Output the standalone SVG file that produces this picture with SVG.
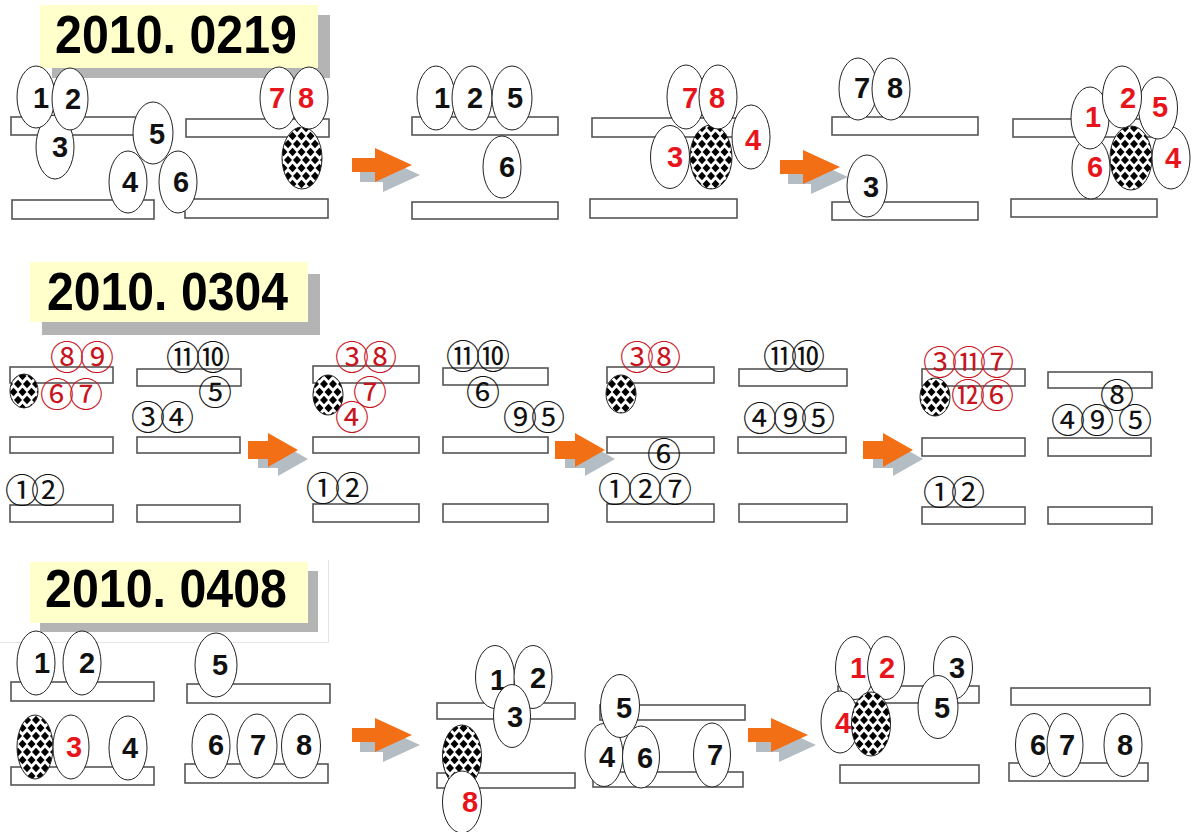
<svg xmlns="http://www.w3.org/2000/svg" xmlns:xlink="http://www.w3.org/1999/xlink" width="1196" height="832" viewBox="0 0 1196 832">
  <style>
    .bar { fill: #fff; stroke: #555; stroke-width: 1.6; }
    .el { fill: #fff; stroke: #222; stroke-width: 1; }
    .chk { fill: url(#checker); stroke: #222; stroke-width: 1; }
    .n { font-family: "Liberation Sans", Arial, sans-serif; font-weight: bold; font-size: 29px; text-anchor: middle; fill: #111; }
    .red { fill: #e8141c; }
    .c { font-family: "Noto Sans CJK JP", "DejaVu Sans", sans-serif; font-size: 34px; text-anchor: middle; dominant-baseline: central; fill: #111; }
    .cr { fill: #c8141e; }
    .ttl { font-family: "Liberation Sans", Arial, sans-serif; font-weight: bold; font-size: 53px; fill: #000; }
    .tbox { fill: #ffffcc; }
    .tshadow { fill: #b4b4b4; }
  </style>
  <defs>
    <!-- staggered black diamonds for the hatched ellipse -->
    <pattern id="checker" width="9" height="16" patternUnits="userSpaceOnUse">
      <rect width="9" height="16" fill="#fff"/>
      <path fill="#000" d="M0,-4.2L4,0L0,4.2L-4,0Z M9,-4.2L13,0L9,4.2L5,0Z M4.5,3.8L8.5,8L4.5,12.2L0.5,8Z M0,11.8L4,16L0,20.2L-4,16Z M9,11.8L13,16L9,20.2L5,16Z"/>
    </pattern>
    <!-- block arrow with its grey drop shadow; tip at the origin -->
    <g id="arrow">
      <path transform="translate(8,10)" fill="#b4bcc4" d="M-60,-7H-37V-17L0,0L-37,17V7H-60Z"/>
      <path fill="#f36f16" d="M-60,-7H-37V-17L0,0L-37,17V7H-60Z"/>
    </g>
    <g id="arrow-s">
      <path transform="translate(10,9)" fill="#b4bcc4" d="M-50,-9H-30V-17L0,0L-30,17V9H-50Z"/>
      <path fill="#f36f16" d="M-50,-9H-30V-17L0,0L-30,17V9H-50Z"/>
    </g>
  </defs>

  <rect width="1196" height="832" fill="#fff"/>

  <!-- ===== titles ===== -->
  <g id="title-0219">
    <rect class="tshadow" x="52" y="15" width="278" height="63"/>
    <rect class="tbox" x="40" y="5" width="278" height="63"/>
    <text class="ttl" x="55" y="53" textLength="242" lengthAdjust="spacingAndGlyphs">2010. 0219</text>
  </g>
  <g id="title-0304">
    <rect class="tshadow" x="42" y="274" width="278" height="61"/>
    <rect class="tbox" x="30" y="262" width="278" height="60"/>
    <text class="ttl" x="47" y="310" textLength="241" lengthAdjust="spacingAndGlyphs">2010. 0304</text>
  </g>
  <g id="title-0408">
    <path d="M0,642.5H328.5V560" fill="none" stroke="#e4e4e4" stroke-width="1"/>
    <rect class="tshadow" x="40" y="571" width="278" height="61"/>
    <rect class="tbox" x="30" y="562" width="278" height="61"/>
    <text class="ttl" x="45" y="607" textLength="242" lengthAdjust="spacingAndGlyphs">2010. 0408</text>
  </g>

  <!-- ===== connectors (step arrows) ===== -->
  <g id="connectors">
    <use xlink:href="#arrow" x="412" y="165"/>
    <use xlink:href="#arrow" x="840" y="167"/>
    <use xlink:href="#arrow-s" x="298" y="450"/>
    <use xlink:href="#arrow-s" x="605" y="450"/>
    <use xlink:href="#arrow-s" x="913" y="450"/>
    <use xlink:href="#arrow" x="412" y="735"/>
    <use xlink:href="#arrow" x="808" y="735"/>
  </g>

  <!-- ===== 2010.0219 : stage 1 ===== -->
  <g id="a1-bars">
    <rect class="bar" x="11" y="117" width="135" height="18"/>
    <rect class="bar" x="12" y="200" width="142" height="19"/>
    <rect class="bar" x="186" y="119" width="143" height="18"/>
    <rect class="bar" x="185" y="199" width="143" height="19"/>
  </g>
  <g id="a1-3"><ellipse class="el" cx="55" cy="147" rx="19" ry="32"/><text class="n" x="60" y="157">3</text></g>
  <g id="a1-1"><ellipse class="el" cx="36" cy="97" rx="19" ry="31"/><text class="n" x="41" y="108">1</text></g>
  <g id="a1-2"><ellipse class="el" cx="70" cy="99" rx="18" ry="31"/><text class="n" x="73" y="109">2</text></g>
  <g id="a1-4"><ellipse class="el" cx="128" cy="182" rx="19" ry="31"/><text class="n" x="130" y="192">4</text></g>
  <g id="a1-6"><ellipse class="el" cx="178" cy="182" rx="19" ry="31"/><text class="n" x="181" y="192">6</text></g>
  <g id="a1-5"><ellipse class="el" cx="153" cy="133" rx="20" ry="31"/><text class="n" x="157" y="144">5</text></g>
  <g id="a1-x"><ellipse class="chk" cx="302" cy="158" rx="20" ry="31"/></g>
  <g id="a1-7"><ellipse class="el" cx="279" cy="98" rx="19" ry="31"/><text class="n red" x="277" y="108">7</text></g>
  <g id="a1-8"><ellipse class="el" cx="309" cy="98" rx="19" ry="31"/><text class="n red" x="306" y="108">8</text></g>

  <!-- stage 2 -->
  <g id="a2-bars">
    <rect class="bar" x="412" y="117" width="146" height="18"/>
    <rect class="bar" x="412" y="202" width="146" height="17"/>
  </g>
  <g id="a2-1"><ellipse class="el" cx="436" cy="98" rx="19" ry="32"/><text class="n" x="442" y="108">1</text></g>
  <g id="a2-2"><ellipse class="el" cx="472" cy="98" rx="20" ry="32"/><text class="n" x="475" y="108">2</text></g>
  <g id="a2-5"><ellipse class="el" cx="512" cy="98" rx="20" ry="32"/><text class="n" x="515" y="108">5</text></g>
  <g id="a2-6"><ellipse class="el" cx="502" cy="167" rx="19" ry="31"/><text class="n" x="507" y="177">6</text></g>

  <!-- stage 3 -->
  <g id="a3-bars">
    <rect class="bar" x="592" y="118" width="146" height="19"/>
    <rect class="bar" x="590" y="199" width="147" height="19"/>
  </g>
  <g id="a3-3"><ellipse class="el" cx="670" cy="157" rx="19.5" ry="31.5"/><text class="n red" x="675" y="167">3</text></g>
  <g id="a3-x"><ellipse class="chk" cx="711" cy="157" rx="21" ry="32"/></g>
  <g id="a3-4"><ellipse class="el" cx="751" cy="137" rx="19" ry="32"/><text class="n red" x="753" y="150">4</text></g>
  <g id="a3-7"><ellipse class="el" cx="686" cy="97" rx="19" ry="32"/><text class="n red" x="690" y="108">7</text></g>
  <g id="a3-8"><ellipse class="el" cx="718" cy="97" rx="19" ry="32"/><text class="n red" x="717" y="108">8</text></g>

  <!-- stage 4 -->
  <g id="a4-bars">
    <rect class="bar" x="832" y="117" width="146" height="18"/>
    <rect class="bar" x="832" y="202" width="146" height="18"/>
  </g>
  <g id="a4-7"><ellipse class="el" cx="858" cy="89" rx="19" ry="31"/><text class="n" x="862" y="98">7</text></g>
  <g id="a4-8"><ellipse class="el" cx="891" cy="89" rx="19" ry="31"/><text class="n" x="895" y="98">8</text></g>
  <g id="a4-3"><ellipse class="el" cx="867" cy="186" rx="20" ry="31"/><text class="n" x="871" y="197">3</text></g>

  <!-- stage 5 -->
  <g id="a5-bars">
    <rect class="bar" x="1013" y="119" width="145" height="18"/>
    <rect class="bar" x="1011" y="199" width="146" height="18"/>
  </g>
  <g id="a5-x"><ellipse class="chk" cx="1131" cy="158" rx="21" ry="32"/></g>
  <g id="a5-6"><ellipse class="el" cx="1091" cy="168" rx="19" ry="31"/><text class="n red" x="1095" y="177">6</text></g>
  <g id="a5-1"><ellipse class="el" cx="1090" cy="118" rx="19" ry="31"/><text class="n red" x="1093" y="127">1</text></g>
  <g id="a5-4"><ellipse class="el" cx="1171" cy="158" rx="19" ry="31"/><text class="n red" x="1173" y="168">4</text></g>
  <g id="a5-5"><ellipse class="el" cx="1158" cy="108" rx="19.5" ry="31"/><text class="n red" x="1160" y="117">5</text></g>
  <g id="a5-2"><ellipse class="el" cx="1122" cy="97" rx="19.5" ry="31"/><text class="n red" x="1128" y="108">2</text></g>

  <!-- ===== 2010.0304 : stage 1 ===== -->
  <g id="b1-bars">
    <rect class="bar" x="10" y="367" width="103" height="16"/>
    <rect class="bar" x="137" y="369" width="104" height="17"/>
    <rect class="bar" x="10" y="437" width="103" height="16"/>
    <rect class="bar" x="137" y="437" width="103" height="16"/>
    <rect class="bar" x="10" y="505" width="103" height="17"/>
    <rect class="bar" x="137" y="505" width="103" height="17"/>
  </g>
  <g id="b1-x"><ellipse class="chk" cx="24" cy="391" rx="14" ry="17"/></g>
  <g id="b1-8"><text class="c cr" x="67" y="355">⑧</text></g>
  <g id="b1-9"><text class="c cr" x="97" y="355">⑨</text></g>
  <g id="b1-6"><text class="c cr" x="57" y="392">⑥</text></g>
  <g id="b1-7"><text class="c cr" x="86" y="392">⑦</text></g>
  <g id="b1-11"><text class="c" x="183" y="355">⑪</text></g>
  <g id="b1-10"><text class="c" x="213" y="355">⑩</text></g>
  <g id="b1-5"><text class="c" x="215" y="390">⑤</text></g>
  <g id="b1-3"><text class="c" x="148" y="415">③</text></g>
  <g id="b1-4"><text class="c" x="177" y="415">④</text></g>
  <g id="b1-1"><text class="c" x="22" y="488">①</text></g>
  <g id="b1-2"><text class="c" x="48" y="488">②</text></g>

  <!-- stage 2 -->
  <g id="b2-bars">
    <rect class="bar" x="313" y="366" width="106" height="17"/>
    <rect class="bar" x="443" y="368" width="105" height="17"/>
    <rect class="bar" x="313" y="437" width="106" height="16"/>
    <rect class="bar" x="443" y="437" width="105" height="16"/>
    <rect class="bar" x="313" y="504" width="106" height="18"/>
    <rect class="bar" x="443" y="504" width="105" height="18"/>
  </g>
  <g id="b2-x"><ellipse class="chk" cx="328" cy="395" rx="15" ry="20"/></g>
  <g id="b2-3"><text class="c cr" x="352" y="355">③</text></g>
  <g id="b2-8"><text class="c cr" x="380" y="355">⑧</text></g>
  <g id="b2-7"><text class="c cr" x="370" y="390">⑦</text></g>
  <g id="b2-4"><text class="c cr" x="352" y="415">④</text></g>
  <g id="b2-11"><text class="c" x="463" y="354">⑪</text></g>
  <g id="b2-10"><text class="c" x="493" y="354">⑩</text></g>
  <g id="b2-6"><text class="c" x="483" y="390">⑥</text></g>
  <g id="b2-9"><text class="c" x="520" y="415">⑨</text></g>
  <g id="b2-5"><text class="c" x="548" y="415">⑤</text></g>
  <g id="b2-1"><text class="c" x="323" y="486">①</text></g>
  <g id="b2-2"><text class="c" x="352" y="486">②</text></g>

  <!-- stage 3 -->
  <g id="b3-bars">
    <rect class="bar" x="607" y="367" width="107" height="16"/>
    <rect class="bar" x="739" y="369" width="108" height="17"/>
    <rect class="bar" x="607" y="437" width="107" height="16"/>
    <rect class="bar" x="738" y="437" width="108" height="16"/>
    <rect class="bar" x="607" y="504" width="107" height="18"/>
    <rect class="bar" x="739" y="504" width="108" height="18"/>
  </g>
  <g id="b3-x"><ellipse class="chk" cx="621" cy="394" rx="15" ry="19"/></g>
  <g id="b3-3"><text class="c cr" x="637" y="355">③</text></g>
  <g id="b3-8"><text class="c cr" x="664" y="355">⑧</text></g>
  <g id="b3-11"><text class="c" x="780" y="354">⑪</text></g>
  <g id="b3-10"><text class="c" x="808" y="354">⑩</text></g>
  <g id="b3-4"><text class="c" x="760" y="416">④</text></g>
  <g id="b3-9"><text class="c" x="790" y="416">⑨</text></g>
  <g id="b3-5"><text class="c" x="818" y="416">⑤</text></g>
  <g id="b3-6"><text class="c" x="664" y="452">⑥</text></g>
  <g id="b3-1"><text class="c" x="615" y="487">①</text></g>
  <g id="b3-2"><text class="c" x="645" y="487">②</text></g>
  <g id="b3-7"><text class="c" x="675" y="487">⑦</text></g>

  <!-- stage 4 -->
  <g id="b4-bars">
    <rect class="bar" x="922" y="369" width="103" height="17"/>
    <rect class="bar" x="1048" y="372" width="104" height="16"/>
    <rect class="bar" x="922" y="438" width="103" height="18"/>
    <rect class="bar" x="1048" y="438" width="103" height="18"/>
    <rect class="bar" x="922" y="507" width="103" height="17"/>
    <rect class="bar" x="1048" y="507" width="104" height="17"/>
  </g>
  <g id="b4-x"><ellipse class="chk" cx="935" cy="397" rx="15" ry="19"/></g>
  <g id="b4-3"><text class="c cr" x="940" y="360">③</text></g>
  <g id="b4-11"><text class="c cr" x="969" y="360">⑪</text></g>
  <g id="b4-7"><text class="c cr" x="997" y="360">⑦</text></g>
  <g id="b4-12"><text class="c cr" x="968" y="393">⑫</text></g>
  <g id="b4-6"><text class="c cr" x="997" y="393">⑥</text></g>
  <g id="b4-8"><text class="c" x="1117" y="393">⑧</text></g>
  <g id="b4-4"><text class="c" x="1068" y="418">④</text></g>
  <g id="b4-9"><text class="c" x="1097" y="418">⑨</text></g>
  <g id="b4-5"><text class="c" x="1135" y="418">⑤</text></g>
  <g id="b4-1"><text class="c" x="940" y="490">①</text></g>
  <g id="b4-2"><text class="c" x="968" y="490">②</text></g>

  <!-- ===== 2010.0408 : stage 1 ===== -->
  <g id="c1-bars">
    <rect class="bar" x="11" y="682" width="143" height="19"/>
    <rect class="bar" x="187" y="684" width="143" height="19"/>
    <rect class="bar" x="11" y="767" width="143" height="18"/>
    <rect class="bar" x="185" y="764" width="143" height="19"/>
  </g>
  <g id="c1-1"><ellipse class="el" cx="36" cy="663" rx="19" ry="32"/><text class="n" x="42" y="673">1</text></g>
  <g id="c1-2"><ellipse class="el" cx="82" cy="663" rx="19" ry="32"/><text class="n" x="87" y="673">2</text></g>
  <g id="c1-5"><ellipse class="el" cx="216" cy="665" rx="21" ry="32"/><text class="n" x="220" y="675">5</text></g>
  <g id="c1-x"><ellipse class="chk" cx="35" cy="747" rx="18" ry="32"/></g>
  <g id="c1-3"><ellipse class="el" cx="71" cy="747" rx="18" ry="32"/><text class="n red" x="74" y="757">3</text></g>
  <g id="c1-4"><ellipse class="el" cx="128" cy="748" rx="19" ry="32"/><text class="n" x="130" y="758">4</text></g>
  <g id="c1-6"><ellipse class="el" cx="211" cy="746" rx="19" ry="32"/><text class="n" x="216" y="755">6</text></g>
  <g id="c1-7"><ellipse class="el" cx="257" cy="746" rx="20" ry="32"/><text class="n" x="258" y="755">7</text></g>
  <g id="c1-8"><ellipse class="el" cx="301" cy="746" rx="19.5" ry="32"/><text class="n" x="304" y="755">8</text></g>

  <!-- stage 2 -->
  <g id="c2-bars">
    <rect class="bar" x="437" y="703" width="138" height="16"/>
    <rect class="bar" x="437" y="773" width="138" height="15"/>
  </g>
  <g id="c2-1"><ellipse class="el" cx="495" cy="677" rx="19.5" ry="31.5"/><text class="n" x="498" y="690">1</text></g>
  <g id="c2-2"><ellipse class="el" cx="533" cy="677" rx="19" ry="31.5"/><text class="n" x="538" y="688">2</text></g>
  <g id="c2-3"><ellipse class="el" cx="512" cy="716" rx="18.5" ry="31.5"/><text class="n" x="515" y="727">3</text></g>
  <g id="c2-x"><ellipse class="chk" cx="462" cy="756" rx="19.5" ry="31"/></g>
  <g id="c2-8"><ellipse class="el" cx="462" cy="802" rx="19.5" ry="31"/><text class="n red" x="470" y="812">8</text></g>

  <!-- stage 3 -->
  <g id="c3-bars">
    <rect class="bar" x="600" y="705" width="145" height="15"/>
    <rect class="bar" x="593" y="772" width="150" height="15"/>
  </g>
  <g id="c3-4"><ellipse class="el" cx="604" cy="755" rx="19" ry="31.5"/><text class="n" x="607" y="767">4</text></g>
  <g id="c3-6"><ellipse class="el" cx="641" cy="757" rx="18.5" ry="31"/><text class="n" x="645" y="768">6</text></g>
  <g id="c3-5"><ellipse class="el" cx="620" cy="706" rx="19.5" ry="31.5"/><text class="n" x="624" y="718">5</text></g>
  <g id="c3-7"><ellipse class="el" cx="712" cy="755" rx="18.5" ry="32"/><text class="n" x="715" y="765">7</text></g>

  <!-- stage 4 -->
  <g id="c4-bars">
    <rect class="bar" x="838" y="686" width="141" height="17"/>
    <rect class="bar" x="840" y="765" width="139" height="18"/>
  </g>
  <g id="c4-3"><ellipse class="el" cx="953" cy="668" rx="19.5" ry="31.5"/><text class="n" x="957" y="678">3</text></g>
  <g id="c4-5"><ellipse class="el" cx="938" cy="707" rx="20" ry="31.5"/><text class="n" x="942" y="718">5</text></g>
  <g id="c4-1"><ellipse class="el" cx="855" cy="668" rx="19.5" ry="31.5"/><text class="n red" x="858" y="678">1</text></g>
  <g id="c4-2"><ellipse class="el" cx="886" cy="668" rx="18.5" ry="31.5"/><text class="n red" x="887" y="678">2</text></g>
  <g id="c4-4"><ellipse class="el" cx="840" cy="722" rx="19" ry="31"/><text class="n red" x="843" y="733">4</text></g>
  <g id="c4-x"><ellipse class="chk" cx="871" cy="724" rx="19.5" ry="32"/></g>

  <!-- stage 5 -->
  <g id="c5-bars">
    <rect class="bar" x="1011" y="688" width="139" height="17"/>
    <rect class="bar" x="1009" y="763" width="139" height="18"/>
  </g>
  <g id="c5-6"><ellipse class="el" cx="1034" cy="745" rx="18.5" ry="31.5"/><text class="n" x="1038" y="755">6</text></g>
  <g id="c5-7"><ellipse class="el" cx="1065" cy="745" rx="18" ry="31.5"/><text class="n" x="1067" y="755">7</text></g>
  <g id="c5-8"><ellipse class="el" cx="1123" cy="745" rx="19" ry="31.5"/><text class="n" x="1125" y="755">8</text></g>
</svg>
